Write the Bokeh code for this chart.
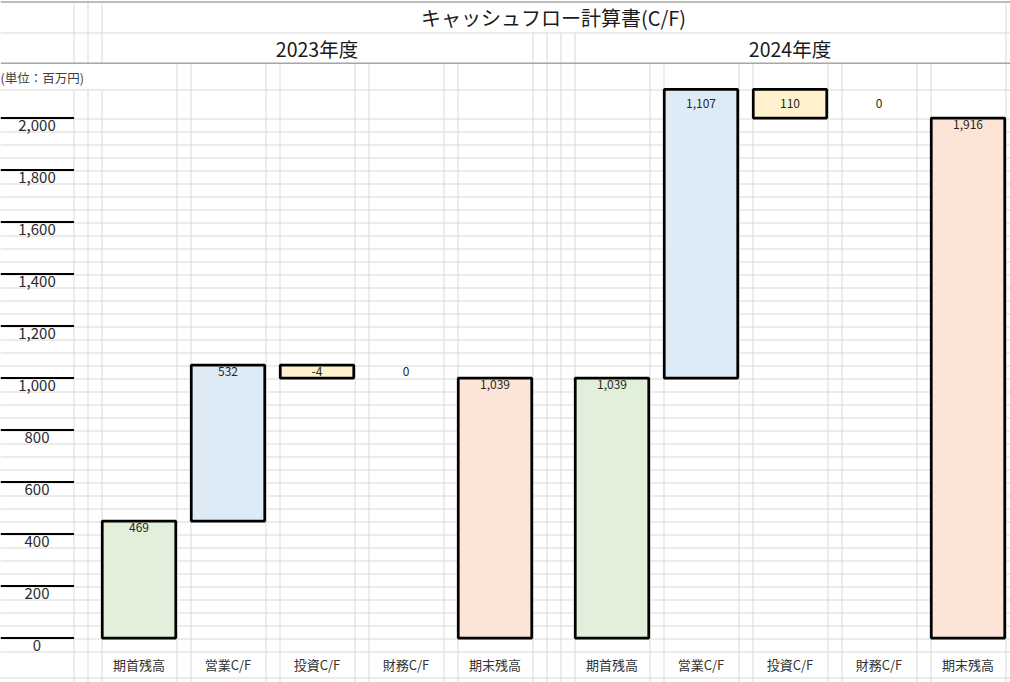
from bokeh.plotting import figure
from bokeh.models import Range1d, ColumnDataSource
from bokeh.embed import file_html
from bokeh.resources import INLINE
from bokeh.core.properties import value

# ---------------- data ----------------
title_text = "キャッシュフロー計算書(C/F)"
unit_text = "(単位：百万円)"
years = ["2023年度", "2024年度"]
categories = ["期首残高", "営業C/F", "投資C/F", "財務C/F", "期末残高"]
amount_2023 = [469, 532, -4, 0, 1039]
amount_2024 = [1039, 1107, 110, 0, 1916]
# bar extents as drawn in the sheet (start level -> end level)
bar_from_2023 = [0, 450, 1050, 1050, 0]
bar_to_2023 = [450, 1050, 1000, 1050, 1000]
bar_from_2024 = [0, 1000, 2110, 2110, 0]
bar_to_2024 = [1000, 2110, 2000, 2110, 2000]
y_ticks = [0, 200, 400, 600, 800, 1000, 1200, 1400, 1600, 1800, 2000]

amounts = [amount_2023, amount_2024]
bar_from = [bar_from_2023, bar_from_2024]
bar_to = [bar_to_2023, bar_to_2024]

# ---------------- layout / style ----------------
W, H = 1010, 682
PX0 = 637.5          # screen row of value 0
PPU = 0.26           # pixels per unit
LEFT = 101
BAR_COL = 75
GAP_COL = 14
SLOT = BAR_COL + GAP_COL
BLOCK = 5 * SLOT + 2 * GAP_COL
TICK_COL_RIGHT = 73
fills = ["#E2EFDA", "#DDEBF7", "#FFF2CC", "#FFFFFF", "#FCE4D6"]
GRID = "#D9D9D9"
DARK = "#A6A6A6"
JP = value("Noto Sans CJK JP")

def center(j, i):
    return LEFT + j * BLOCK + i * SLOT + BAR_COL / 2

p = figure(width=W, height=H, x_range=Range1d(0, W),
           y_range=Range1d((PX0 - H) / PPU, PX0 / PPU),
           output_backend="svg", toolbar_location=None, min_border=0,
           x_axis_location=None, y_axis_location=None, title=None)
p.extra_y_ranges = {"px": Range1d(H, 0)}
p.grid.grid_line_color = None
p.outline_line_color = None
p.background_fill_color = "white"
p.border_fill_color = "white"

# ---------------- spreadsheet grid ----------------
row_lines = [89] + [118 + 13 * k for k in range(41)] + [651, 677]
chart_cols = [73, 87]
for j in range(2):
    for i in range(5):
        s = LEFT + j * BLOCK + i * SLOT
        chart_cols += [s, s + BAR_COL]
    if j == 0:
        last = LEFT + 4 * SLOT + BAR_COL
        chart_cols += [last + GAP_COL, last + 2 * GAP_COL]
right_edge = LEFT + BLOCK + 4 * SLOT + BAR_COL
mid_cols = [LEFT + 4 * SLOT + BAR_COL + k * GAP_COL for k in range(4)]

seg = dict(x0=[], y0=[], x1=[], y1=[])
def add(x0, y0, x1, y1):
    seg["x0"].append(x0); seg["y0"].append(y0); seg["x1"].append(x1); seg["y1"].append(y1)

for r in row_lines + [32]:
    add(0, r + 0.5, W, r + 0.5)
for c in chart_cols:
    add(c + 0.5, 89, c + 0.5, H)
    if c > LEFT:
        add(c + 0.5, 63, c + 0.5, 89)
for c in [73, 87, LEFT, right_edge]:
    add(c + 0.5, 2, c + 0.5, 63)
for c in mid_cols:
    add(c + 0.5, 32, c + 0.5, 63)
p.segment(x0="x0", y0="y0", x1="x1", y1="y1", source=ColumnDataSource(seg),
          line_color=GRID, line_width=1, y_range_name="px")
p.segment(x0=[0, 0], y0=[1.5, 62.8], x1=[W, W], y1=[1.5, 62.8],
          line_color=DARK, line_width=1.5, y_range_name="px")

# ---------------- header texts ----------------
p.text(x=[(LEFT + right_edge) / 2], y=[17], text=[title_text], text_font=JP,
       text_font_size=value("20px"), text_align="center", text_baseline="middle",
       text_color="#1a1a1a", y_range_name="px")
year_x = [(LEFT + LEFT + 4 * SLOT + BAR_COL) / 2, (LEFT + BLOCK + right_edge) / 2]
p.text(x=year_x, y=[47.5, 47.5], text=years, text_font=JP,
       text_font_size=value("19.5px"), text_align="center", text_baseline="middle",
       text_color="#1a1a1a", y_range_name="px")
p.text(x=[0], y=[76.5], text=[unit_text], text_font=JP,
       text_font_size=value("12.5px"), text_align="left", text_baseline="middle",
       text_color="#404040", y_range_name="px")

# ---------------- value axis (tick bars + labels) ----------------
p.segment(x0=[0] * len(y_ticks), y0=y_ticks, x1=[TICK_COL_RIGHT + 0.5] * len(y_ticks), y1=y_ticks,
          line_color="black", line_width=2)
p.text(x=[TICK_COL_RIGHT / 2] * len(y_ticks), y=y_ticks, text=[f"{t:,}" for t in y_ticks],
       text_font=JP, text_font_size=value("15px"), text_align="center",
       text_baseline="middle", y_offset=7.5, text_color="#2a2a2a")

# ---------------- bars ----------------
bars = dict(left=[], right=[], top=[], bottom=[], fill=[])
labels = dict(x=[], y=[], text=[], off=[])
cats = dict(x=[], y=[], text=[])
HALF = 36.75
for j in range(2):
    for i in range(5):
        cx = center(j, i)
        a, b = bar_from[j][i], bar_to[j][i]
        if a != b:
            bars["left"].append(cx - HALF); bars["right"].append(cx + HALF)
            bars["bottom"].append(min(a, b)); bars["top"].append(max(a, b))
            bars["fill"].append(fills[i])
        top = max(a, b)
        ps = PX0 - PPU * top
        nxt = min(r for r in row_lines if r > ps + 1)
        labels["x"].append(cx); labels["y"].append(top)
        labels["text"].append(f"{amounts[j][i]:,}")
        labels["off"].append((nxt - ps) / 2)
        cats["x"].append(cx); cats["y"].append(664); cats["text"].append(categories[i])

p.quad(left="left", right="right", top="top", bottom="bottom", source=ColumnDataSource(bars),
       fill_color="fill", line_color="black", line_width=2.75)
p.text(x="x", y="y", text="text", y_offset="off", source=ColumnDataSource(labels),
       text_font=JP, text_font_size=value("12px"), text_align="center",
       text_baseline="middle", text_color="#262626")
p.text(x="x", y="y", text="text", source=ColumnDataSource(cats),
       text_font=JP, text_font_size=value("13px"), text_align="center",
       text_baseline="middle", text_color="#333333", y_range_name="px")

open("out.html", "w").write(file_html(p, INLINE))
